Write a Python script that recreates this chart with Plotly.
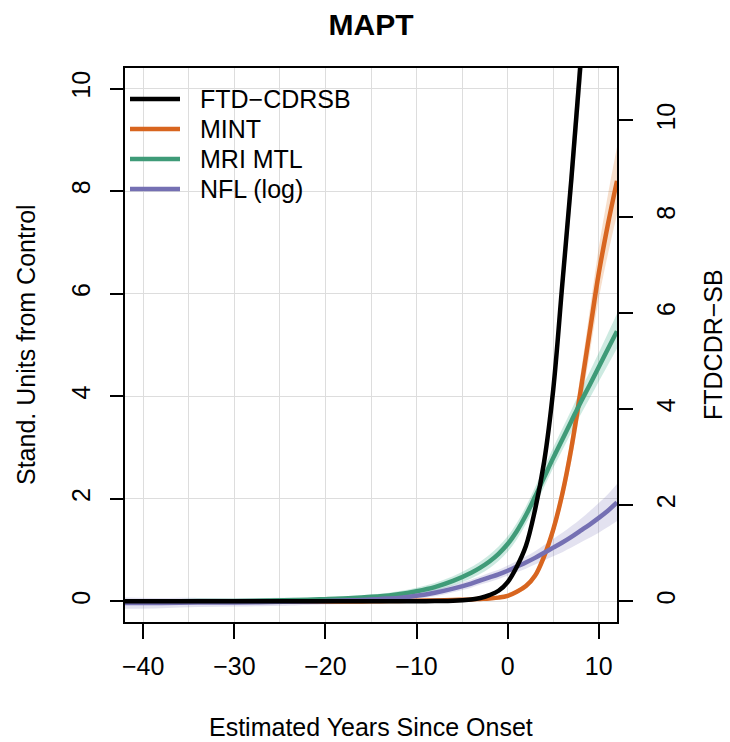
import plotly.graph_objects as go

# ---------------- data ----------------
years = [-42, -38, -34, -30, -26, -22, -20, -18, -16, -14, -12, -10, -8, -6, -4, -3, -2, -1,
         0, 1, 2, 3, 4, 5, 6, 7, 8, 9, 10, 11, 12]

# FTD-CDRSB (right axis, FTDCDR-SB units)
ftd_cdrsb = [0, 0, 0, 0, 0, 0, 0, 0, 0, 0, 0, 0, 0.005, 0.01, 0.04, 0.07, 0.13, 0.22,
             0.4, 0.72, 1.15, 1.9, 2.9, 4.4, 6.6, 8.8, 11.2, 13.6, 16.0, 18.5, 21.0]
ftd_cdrsb_ci = [0.02, 0.02, 0.02, 0.02, 0.02, 0.02, 0.02, 0.02, 0.02, 0.02, 0.02, 0.02, 0.02, 0.02,
                0.03, 0.03, 0.03, 0.04, 0.05, 0.07, 0.1, 0.15, 0.2, 0.3, 0.4, 0.5, 0.65, 0.8, 0.95, 1.1, 1.25]

# MINT (left axis)
mint = [0, 0, 0, 0, 0, 0, 0, 0, 0, 0.005, 0.01, 0.015, 0.02, 0.03, 0.04, 0.05, 0.06, 0.075,
        0.11, 0.19, 0.3, 0.5, 0.88, 1.4, 2.1, 3.0, 4.1, 5.25, 6.4, 7.35, 8.2]
mint_ci = [0.02, 0.02, 0.02, 0.02, 0.02, 0.02, 0.02, 0.02, 0.02, 0.02, 0.02, 0.02, 0.02, 0.02,
           0.02, 0.02, 0.03, 0.03, 0.03, 0.04, 0.05, 0.06, 0.09, 0.13, 0.18, 0.25, 0.33, 0.42, 0.5, 0.58, 0.66]

# MRI MTL (left axis)
mri_mtl = [0.0, 0.0, 0.01, 0.01, 0.02, 0.035, 0.045, 0.06, 0.08, 0.1, 0.14, 0.2, 0.28, 0.4,
           0.56, 0.66, 0.78, 0.93, 1.12, 1.37, 1.68, 2.04, 2.42, 2.8, 3.16, 3.52, 3.88, 4.22, 4.57, 4.92, 5.27]
mri_mtl_ci = [0.03, 0.03, 0.03, 0.03, 0.03, 0.03, 0.03, 0.04, 0.04, 0.05, 0.06, 0.07, 0.08, 0.09,
              0.11, 0.12, 0.13, 0.14, 0.15, 0.16, 0.17, 0.18, 0.19, 0.2, 0.21, 0.22, 0.24, 0.26, 0.28, 0.31, 0.34]

# NFL (log) (left axis)
nfl_log = [-0.03, -0.03, -0.02, -0.02, -0.01, 0.0, 0.01, 0.02, 0.03, 0.05, 0.07, 0.11, 0.17, 0.25,
           0.35, 0.41, 0.47, 0.53, 0.6, 0.68, 0.76, 0.85, 0.95, 1.05, 1.15, 1.26, 1.38, 1.5, 1.63, 1.77, 1.93]
nfl_log_ci = [0.11, 0.1, 0.09, 0.08, 0.08, 0.07, 0.07, 0.07, 0.06, 0.06, 0.06, 0.06, 0.07, 0.07,
              0.08, 0.08, 0.09, 0.09, 0.1, 0.11, 0.12, 0.13, 0.15, 0.17, 0.19, 0.21, 0.23, 0.26, 0.29, 0.32, 0.36]

x_ticks = [-40, -30, -20, -10, 0, 10]
y_ticks = [0, 2, 4, 6, 8, 10]
y2_ticks = [0, 2, 4, 6, 8, 10]

series = [
    ("FTD−CDRSB", ftd_cdrsb, ftd_cdrsb_ci, "#000000", "rgba(0,0,0,0.18)", "y2"),
    ("MINT", mint, mint_ci, "#d8651f", "rgba(217,95,2,0.2)", "y"),
    ("MRI MTL", mri_mtl, mri_mtl_ci, "#3f9b78", "rgba(27,158,119,0.22)", "y"),
    ("NFL (log)", nfl_log, nfl_log_ci, "#7570b3", "rgba(117,112,179,0.2)", "y"),
]

fig = go.Figure()

# confidence bands
for name, vals, ci, col, fillcol, ax in series:
    lo = [v - c for v, c in zip(vals, ci)]
    hi = [v + c for v, c in zip(vals, ci)]
    fig.add_trace(go.Scatter(x=years, y=lo, mode="lines", line=dict(width=0, shape="spline"),
                             yaxis=ax, showlegend=False, hoverinfo="skip"))
    fig.add_trace(go.Scatter(x=years, y=hi, mode="lines", line=dict(width=0, shape="spline"),
                             fill="tonexty", fillcolor=fillcol, yaxis=ax, showlegend=False,
                             hoverinfo="skip"))

# mean lines
for name, vals, ci, col, fillcol, ax in series:
    fig.add_trace(go.Scatter(x=years, y=vals, mode="lines", name=name, showlegend=False,
                             line=dict(color=col, width=4.5, shape="spline", smoothing=1.0),
                             yaxis=ax))

# ---- legend drawn in the top-left corner (R style) ----
PL, PR, PT, PB = 125, 617, 68, 622      # plot area in pixels


def px_x(px):
    return (px - PL) / (PR - PL)


def px_y(py):
    return (PB - py) / (PB - PT)


shapes = []
annotations = []
for i, (name, vals, ci, col, fillcol, ax) in enumerate(series):
    row_y = 99 + 30 * i
    shapes.append(dict(type="line", xref="paper", yref="paper",
                       x0=px_x(130), x1=px_x(180), y0=px_y(row_y), y1=px_y(row_y),
                       line=dict(color=col, width=4.5)))
    annotations.append(dict(text=name, xref="paper", yref="paper",
                            x=px_x(198), y=px_y(row_y), xanchor="left", yanchor="middle",
                            showarrow=False, font=dict(size=25)))

annotations += [
    dict(text="Estimated Years Since Onset", xref="paper", yref="paper",
         x=0.5, y=px_y(727), xanchor="center", yanchor="middle", showarrow=False,
         font=dict(size=25)),
    dict(text="Stand. Units from Control", xref="paper", yref="paper",
         x=px_x(26), y=px_y(345), xanchor="center", yanchor="middle", showarrow=False,
         textangle=-90, font=dict(size=25)),
    dict(text="FTDCDR−SB", xref="paper", yref="paper",
         x=px_x(713), y=px_y(345), xanchor="center", yanchor="middle", showarrow=False,
         textangle=-90, font=dict(size=25)),
]

axis_common = dict(
    ticks="outside", tickwidth=1.5, tickcolor="black",
    showline=True, linewidth=1.5, linecolor="black",
    zeroline=False,
)

fig.update_layout(
    width=730, height=742,
    margin=dict(l=PL, r=730 - PR, t=PT, b=742 - PB),
    plot_bgcolor="white", paper_bgcolor="white",
    font=dict(family="Liberation Sans, Arial, Helvetica, sans-serif", size=25, color="black"),
    title=dict(text="<b>MAPT</b>", x=0.5, xref="paper", xanchor="center",
               y=1 - 24 / 742, yref="container", yanchor="middle",
               font=dict(size=30)),
    xaxis=dict(range=[-42, 12], tickvals=x_ticks, ticklen=15, mirror=True,
               showgrid=True, gridcolor="#dddddd", gridwidth=1,
               minor=dict(tick0=0, dtick=5, showgrid=True, gridcolor="#dddddd", gridwidth=1, ticks=""),
               ticklabelstandoff=6, **axis_common),
    yaxis=dict(range=[-0.4, 10.4], tickvals=y_ticks, ticklen=13, tickangle=-90, mirror=True,
               showgrid=True, gridcolor="#dddddd", gridwidth=1,
               ticklabelstandoff=10, **axis_common),
    yaxis2=dict(range=[-0.43, 11.09], tickvals=y2_ticks, ticklen=15, tickangle=-90,
                overlaying="y", side="right", showgrid=False, zeroline=False,
                ticks="outside", tickwidth=1.5, tickcolor="black", showline=False,
                ticklabelstandoff=12),
    showlegend=False,
    shapes=shapes,
    annotations=annotations,
)

fig.write_html("out.html")
